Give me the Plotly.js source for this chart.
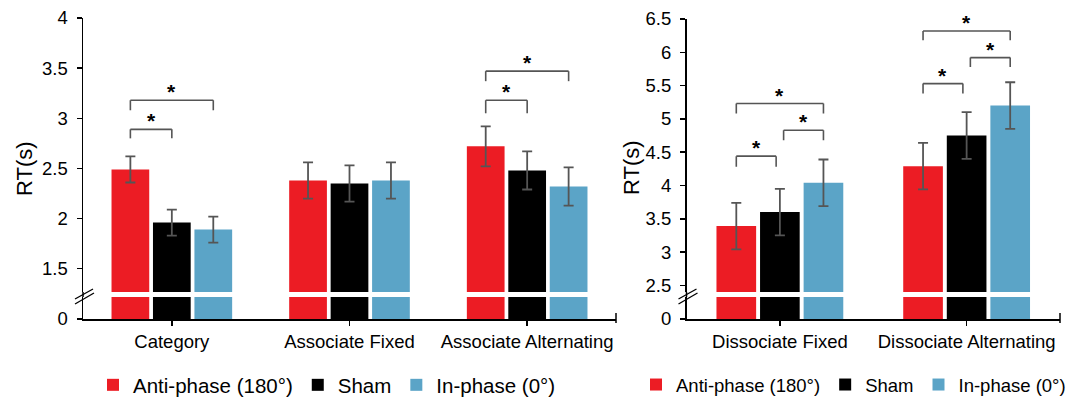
<!DOCTYPE html>
<html>
<head>
<meta charset="utf-8">
<script src="https://cdn.plot.ly/plotly-3.0.1.min.js"></script>
<style>
  html, body { margin: 0; padding: 0; background: #fff; }
  #chart { width: 1073px; height: 399px; }
</style>
</head>
<body>
<div id="chart"></div>
<script>
// ---------- data ----------
const seriesNames = ['Anti-phase (180°)', 'Sham', 'In-phase (0°)'];

const categoriesLeft = ['Category', 'Associate Fixed', 'Associate Alternating'];
const antiLeft = [2.49, 2.38, 2.72];
const shamLeft = [1.96, 2.35, 2.48];
const inLeft   = [1.89, 2.38, 2.32];
const antiLeftErr = [0.13, 0.18, 0.20];
const shamLeftErr = [0.13, 0.18, 0.19];
const inLeftErr   = [0.13, 0.18, 0.19];

const categoriesRight = ['Dissociate Fixed', 'Dissociate Alternating'];
const antiRight = [3.39, 4.29];
const shamRight = [3.60, 4.75];
const inRight   = [4.04, 5.20];
const antiRightErr = [0.35, 0.35];
const shamRightErr = [0.35, 0.35];
const inRightErr   = [0.35, 0.35];

const yTicksLeft  = [1.5, 2, 2.5, 3, 3.5, 4];
const yTicksRight = [2.5, 3, 3.5, 4, 4.5, 5, 5.5, 6, 6.5];

// significance comparisons: [category index, from series, to series, bracket top, leg bottom]
const sigLeft = [
  [0, 0, 1, 2.89, 2.80],
  [0, 0, 2, 3.18, 3.08],
  [2, 0, 1, 3.18, 3.05],
  [2, 0, 2, 3.47, 3.37]
];
const sigRight = [
  [0, 0, 1, 4.44, 4.28],
  [0, 1, 2, 4.83, 4.68],
  [0, 0, 2, 5.23, 5.08],
  [1, 0, 1, 5.53, 5.38],
  [1, 1, 2, 5.92, 5.78],
  [1, 0, 2, 6.32, 6.18]
];

// ---------- style ----------
const colors = ['#EC1C24', '#000000', '#5BA4C7'];
const FONT = 'Liberation Sans, Arial, sans-serif';
const W = 1073, H = 399;
const px = v => v / W;
const py = v => 1 - v / H;
const BARGAP = 0.3;
const slot = (1 - BARGAP) / 3;

const traces = [];
function addPanel(cats, vals, errs, xa, yUp, yLow, legendId) {
  vals.forEach((v, i) => {
    traces.push({
      type: 'bar', x: cats, y: v, name: seriesNames[i],
      xaxis: xa, yaxis: yUp, legend: legendId,
      marker: { color: colors[i], line: { width: 0 } },
      error_y: { type: 'data', array: errs[i], visible: true,
                 color: '#555555', thickness: 1.8, width: 5 },
      showlegend: true, hoverinfo: 'skip'
    });
  });
  vals.forEach((v, i) => {
    traces.push({
      type: 'bar', x: cats, y: v, name: seriesNames[i],
      xaxis: xa, yaxis: yLow, legend: legendId,
      marker: { color: colors[i], line: { width: 0 } },
      showlegend: false, hoverinfo: 'skip'
    });
  });
}
addPanel(categoriesLeft, [antiLeft, shamLeft, inLeft],
         [antiLeftErr, shamLeftErr, inLeftErr], 'x', 'y', 'y3', 'legend');
addPanel(categoriesRight, [antiRight, shamRight, inRight],
         [antiRightErr, shamRightErr, inRightErr], 'x2', 'y2', 'y4', 'legend2');

const shapes = [];
const annotations = [];
const lineStyle = { color: '#555555', width: 1.6 };

function addSig(list, xr, yr, inset) {
  list.forEach(([c, a, b, top, leg]) => {
    let x0 = c + (a - 1) * slot;
    let x1 = c + (b - 1) * slot;
    if (inset) {
      if (b === 1) x1 -= 0.02;
      if (a === 1) x0 += 0.02;
    }
    shapes.push({ type: 'line', xref: xr, yref: yr, x0: x0, x1: x0, y0: leg, y1: top, line: lineStyle });
    shapes.push({ type: 'line', xref: xr, yref: yr, x0: x0, x1: x1, y0: top, y1: top, line: lineStyle });
    shapes.push({ type: 'line', xref: xr, yref: yr, x0: x1, x1: x1, y0: top, y1: leg, line: lineStyle });
    annotations.push({ xref: xr, yref: yr, x: (x0 + x1) / 2, y: top, text: '*',
      showarrow: false, yanchor: 'bottom', yshift: -5,
      font: { family: FONT, size: 21, color: '#000', weight: 'bold' } });
  });
}
addSig(sigLeft, 'x', 'y', false);
addSig(sigRight, 'x2', 'y2', true);

// axis-break decorations and continuous y axis line
function breakMarks(axisX, xa) {
  shapes.push({ type: 'line', xref: xa + ' domain', yref: 'paper', x0: 0, x1: 0,
                y0: py(297), y1: py(292), line: { color: '#000', width: 1.5 } });
  shapes.push({ type: 'line', xref: 'paper', yref: 'paper', x0: px(axisX - 8), x1: px(axisX + 10),
                y0: py(299), y1: py(289), line: { color: '#000', width: 1.3 } });
  shapes.push({ type: 'line', xref: 'paper', yref: 'paper', x0: px(axisX - 8), x1: px(axisX + 11),
                y0: py(304), y1: py(293), line: { color: '#000', width: 1.3 } });
  shapes.push({ type: 'line', xref: xa + ' domain', yref: 'paper', x0: 1, x1: 1,
                y0: py(323), y1: py(313), line: { color: '#000', width: 1.5 } });
}
breakMarks(83, 'x');
breakMarks(686.5, 'x2');

annotations.push({ xref: 'paper', yref: 'paper', x: px(25), y: py(169), text: 'RT(s)',
  textangle: -90, showarrow: false, xanchor: 'center', yanchor: 'middle',
  font: { family: FONT, size: 22, color: '#000' } });
annotations.push({ xref: 'paper', yref: 'paper', x: px(631), y: py(168), text: 'RT(s)',
  textangle: -90, showarrow: false, xanchor: 'center', yanchor: 'middle',
  font: { family: FONT, size: 22, color: '#000' } });

const tickFont = { family: FONT, size: 18.5, color: '#000' };
const common = {
  showline: true, linecolor: '#000', linewidth: 1.5, ticks: 'outside', ticklen: 5,
  tickcolor: '#000', tickwidth: 1.5, tickfont: tickFont, showgrid: false, zeroline: false,
  fixedrange: true, automargin: false
};

const layout = {
  width: W, height: H,
  margin: { l: 0, r: 0, t: 0, b: 0, autoexpand: false },
  paper_bgcolor: '#fff', plot_bgcolor: 'rgba(0,0,0,0)',
  barmode: 'group', bargap: BARGAP, bargroupgap: 0.09,
  font: { family: FONT, color: '#000' },
  xaxis: Object.assign({}, common, { domain: [px(83), px(616)], anchor: 'y3',
           type: 'category', range: [-0.5, 2.5], ticklabelstandoff: 0 }),
  yaxis: Object.assign({}, common, { domain: [py(292), py(18)], anchor: 'x',
           range: [1.268, 4], tickvals: yTicksLeft, ticktext: yTicksLeft.map(String),
           ticklabelstandoff: 5 }),
  yaxis3: Object.assign({}, common, { domain: [py(319), py(297)], anchor: 'x',
           range: [0, 1], tickvals: [0], ticktext: ['0'], ticklabelstandoff: 5 }),
  xaxis2: Object.assign({}, common, { domain: [px(686.5), px(1060)], anchor: 'y4',
           type: 'category', range: [-0.5, 1.5], ticklabelstandoff: 0 }),
  yaxis2: Object.assign({}, common, { domain: [py(292), py(19)], anchor: 'x2',
           range: [2.40, 6.5], tickvals: yTicksRight, ticktext: yTicksRight.map(String),
           ticklabelstandoff: 5 }),
  yaxis4: Object.assign({}, common, { domain: [py(319), py(297)], anchor: 'x2',
           range: [0, 1], tickvals: [0], ticktext: ['0'], ticklabelstandoff: 5 }),
  legend: { orientation: 'h', x: px(93), xanchor: 'left', y: py(385), yanchor: 'middle',
            font: { family: FONT, size: 20.5, color: '#000' }, bgcolor: 'rgba(0,0,0,0)',
            traceorder: 'normal' },
  legend2: { orientation: 'h', x: px(636), xanchor: 'left', y: py(385), yanchor: 'middle',
            font: { family: FONT, size: 18.5, color: '#000' }, bgcolor: 'rgba(0,0,0,0)',
            traceorder: 'normal' },
  shapes: shapes,
  annotations: annotations
};

Plotly.newPlot('chart', traces, layout, { displayModeBar: false, staticPlot: true });
</script>
</body>
</html>
